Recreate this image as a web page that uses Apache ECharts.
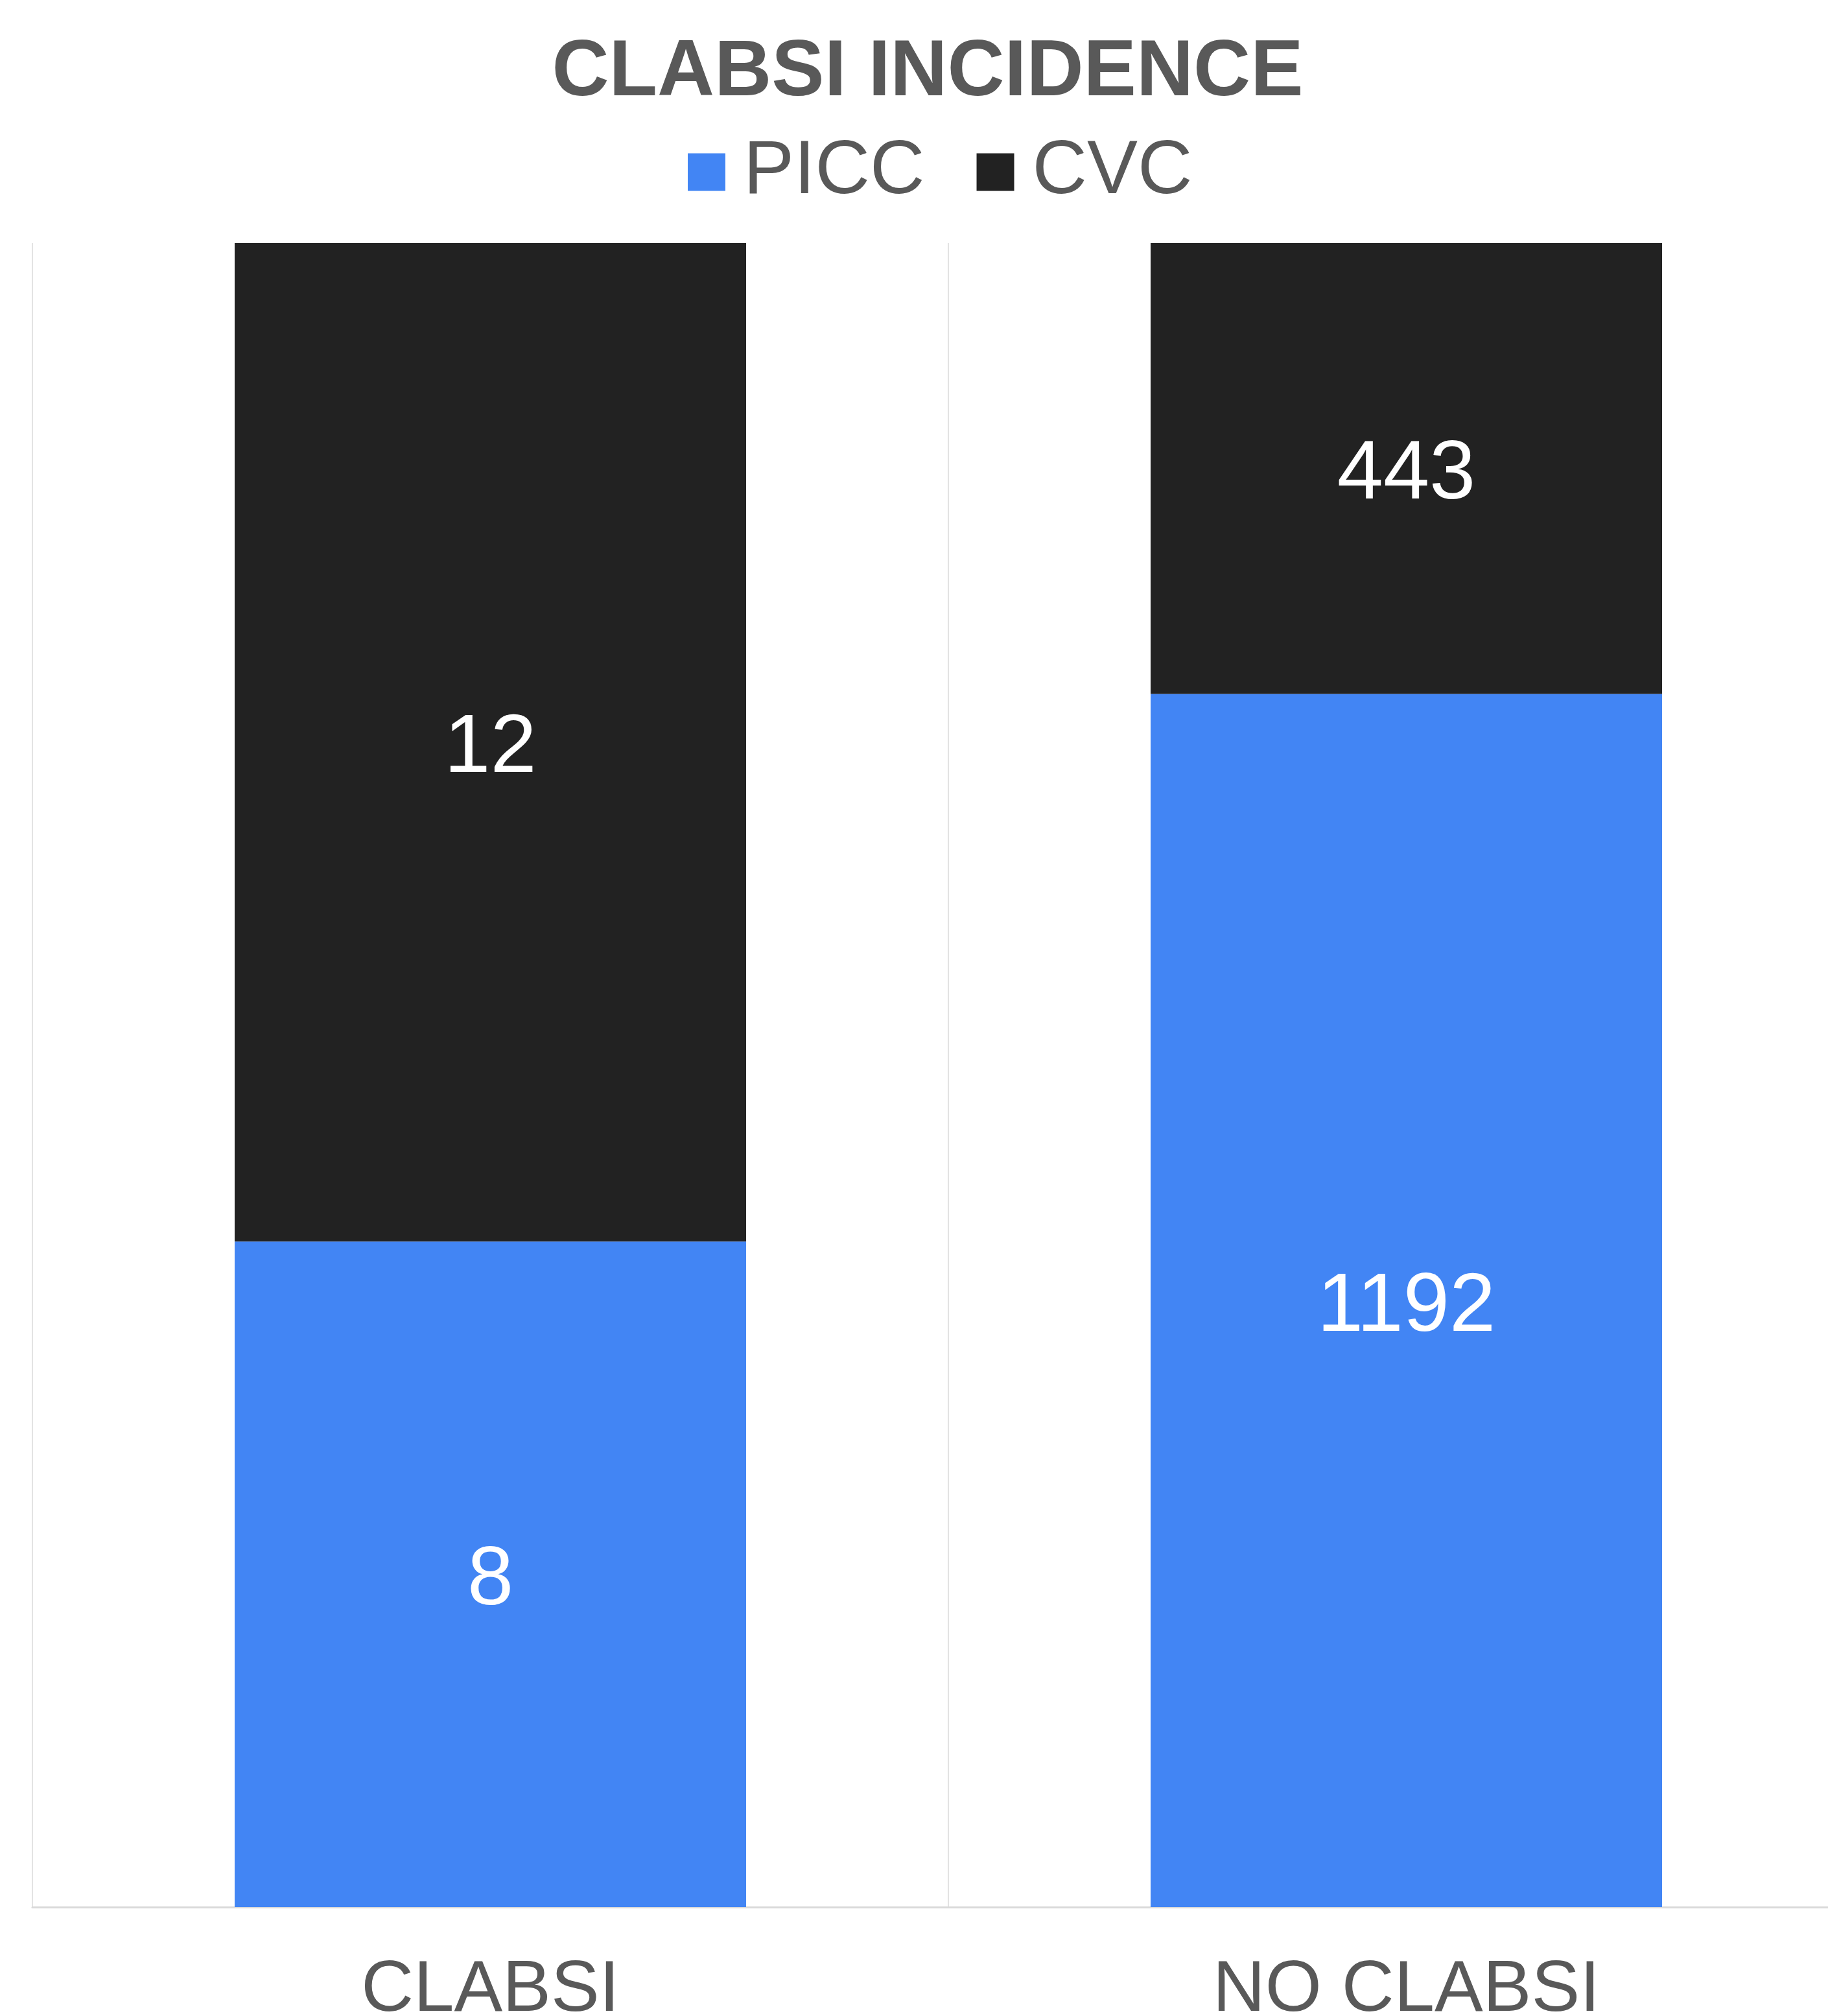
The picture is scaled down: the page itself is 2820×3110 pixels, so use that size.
<!DOCTYPE html>
<html>
<head>
<meta charset="utf-8">
<script src="https://cdn.jsdelivr.net/npm/echarts@6/dist/echarts.min.js"></script>
<style>
html,body{margin:0;padding:0;background:#fff;}
#chart{width:2820px;height:3110px;}
</style>
</head>
<body>
<div id="chart"></div>
<script>
const categories = ['CLABSI', 'NO CLABSI'];
const piccValues = [8, 1192];
const cvcValues = [12, 443];
const seriesNames = ['PICC', 'CVC'];

const totals = categories.map((c, i) => piccValues[i] + cvcValues[i]);
const pct = (arr) => arr.map((v, i) => ({ value: v / totals[i] * 100, raw: v }));

const FONT = "'Liberation Sans', Arial, sans-serif";
const chart = echarts.init(document.getElementById('chart'));
const labelCfg = {
  show: true,
  position: 'inside',
  offset: [0, 11],
  color: '#ffffff',
  fontSize: 128,
  fontFamily: FONT,
  formatter: (p) => String(p.data.raw)
};
chart.setOption({
  animation: false,
  backgroundColor: '#ffffff',
  title: {
    text: 'CLABSI INCIDENCE',
    left: 1431,
    textAlign: 'center',
    top: 52,
    padding: 0,
    textStyle: { fontFamily: FONT, fontWeight: 'bold', fontSize: 122, color: '#595959' }
  },
  legend: {
    data: seriesNames,
    left: 1061,
    top: 207,
    padding: 0,
    icon: 'rect',
    itemWidth: 58,
    itemHeight: 58,
    itemGap: 80,
    textStyle: { fontFamily: FONT, fontSize: 117, color: '#595959', padding: [0, 0, 0, 23] }
  },
  grid: { left: 50, top: 375, width: 2826, height: 2567, containLabel: false, outerBoundsMode: 'none' },
  xAxis: {
    type: 'category',
    data: categories,
    axisLine: { show: true, lineStyle: { color: '#d9d9d9', width: 3 } },
    axisTick: { show: false },
    axisLabel: { margin: 73, fontFamily: FONT, fontSize: 112, color: '#595959' },
    splitLine: { show: true, lineStyle: { color: '#e3e3e3', width: 2 } }
  },
  yAxis: {
    type: 'value',
    min: 0,
    max: 100,
    show: false,
    splitLine: { show: false }
  },
  series: [
    {
      name: seriesNames[0],
      type: 'bar',
      stack: 'total',
      barWidth: 789,
      itemStyle: { color: '#4285F4' },
      label: labelCfg,
      data: pct(piccValues)
    },
    {
      name: seriesNames[1],
      type: 'bar',
      stack: 'total',
      barWidth: 789,
      itemStyle: { color: '#222222' },
      label: labelCfg,
      data: pct(cvcValues)
    }
  ]
});
</script>
</body>
</html>
